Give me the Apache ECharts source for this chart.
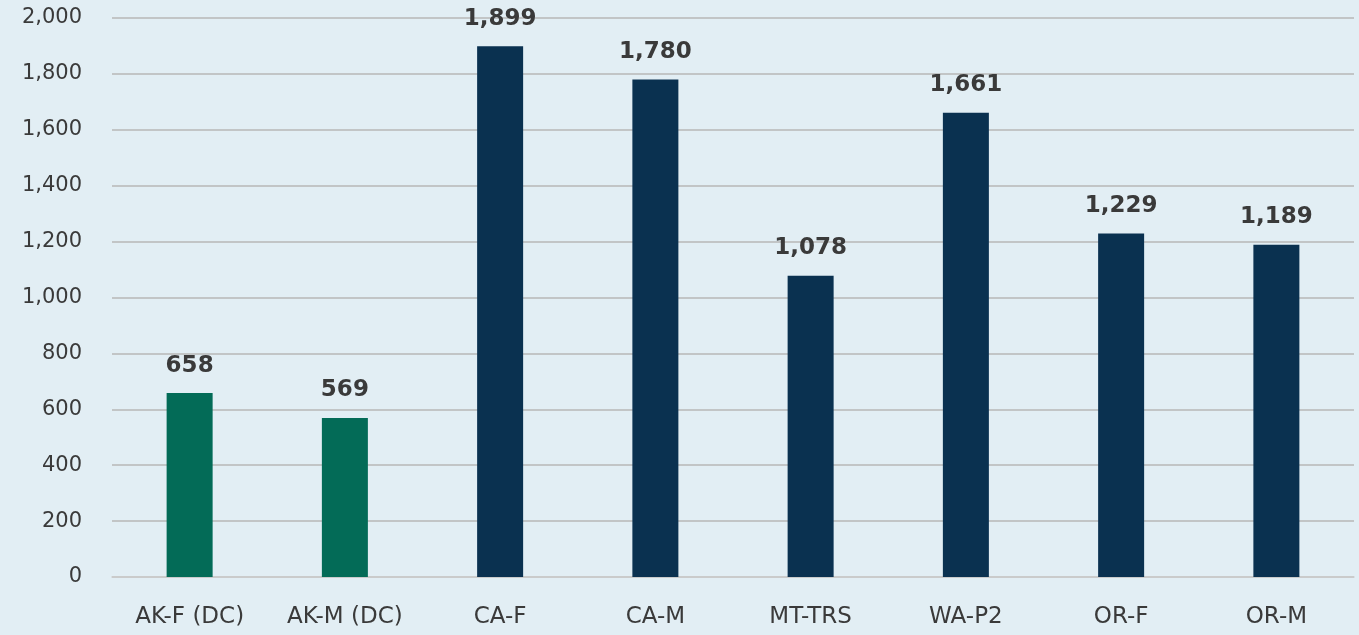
<!DOCTYPE html>
<html>
<head>
<meta charset="utf-8">
<script src="https://cdn.jsdelivr.net/npm/echarts@6/dist/echarts.min.js"></script>
<style>
  html, body { margin: 0; padding: 0; background: #e2eef4; }
  #chart { width: 1359px; height: 635px; }
</style>
</head>
<body>
<div id="chart"></div>
<script>
// Site / group labels along the x-axis
const categories = ['AK-F (DC)', 'AK-M (DC)', 'CA-F', 'CA-M', 'MT-TRS', 'WA-P2', 'OR-F', 'OR-M'];
// Count per group
const values = [658, 569, 1899, 1780, 1078, 1661, 1229, 1189];
// Groups drawn in green (Alaska, DC); the rest are navy
const highlighted = ['AK-F (DC)', 'AK-M (DC)'];

const GREEN = '#036b57';
const NAVY = '#0a3150';
const TEXT = '#3a3a3a';
const FONT = '"DejaVu Sans", sans-serif';

const chart = echarts.init(document.getElementById('chart'), null, { renderer: 'canvas' });

chart.setOption({
  backgroundColor: '#e2eef4',
  animation: false,
  grid: { left: 112, right: 5, top: 18, bottom: 58, containLabel: false },
  xAxis: {
    type: 'category',
    data: categories,
    axisLine: { show: true, lineStyle: { color: '#cdcdcd', width: 1.5 } },
    axisTick: { show: false },
    axisLabel: { color: TEXT, fontFamily: FONT, fontSize: 23, margin: 29, interval: 0, hideOverlap: false }
  },
  yAxis: {
    type: 'value',
    min: 0,
    max: 2000,
    interval: 200,
    axisLine: { show: false },
    axisTick: { show: false },
    axisLabel: {
      color: TEXT, fontFamily: FONT, fontSize: 21, margin: 30,
      formatter: v => v.toLocaleString('en-US')
    },
    splitLine: { lineStyle: { color: '#b7b7b7', width: 1.5 } }
  },
  series: [{
    type: 'bar',
    data: values.map((v, i) => ({
      value: v,
      itemStyle: { color: highlighted.includes(categories[i]) ? GREEN : NAVY }
    })),
    barWidth: 46,
    label: {
      show: true,
      position: 'top',
      distance: 16,
      color: TEXT,
      fontFamily: FONT,
      fontWeight: 'bold',
      fontSize: 23,
      formatter: p => p.value.toLocaleString('en-US')
    }
  }]
});
</script>
</body>
</html>
